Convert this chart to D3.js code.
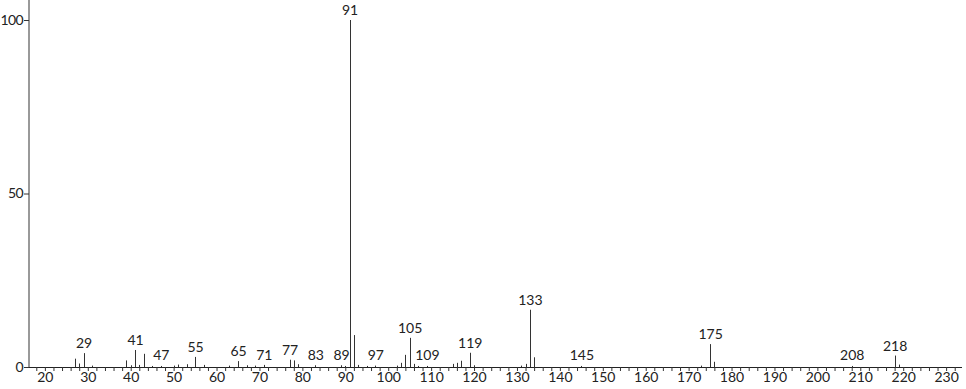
<!DOCTYPE html>
<html>
<head>
<meta charset="utf-8">
<script src="https://cdn.jsdelivr.net/npm/d3@7"></script>
<style>
  body { margin: 0; background: #fff; }
  text { font-family: Lato, "Open Sans", sans-serif; }
</style>
</head>
<body>
<div id="chart"></div>
<script>
// m/z values and relative intensities
var mz = [27, 28, 29, 31, 39, 40, 41, 42, 43, 45, 47, 50, 51, 53, 55, 57, 63, 65, 67, 69, 71,
          77, 78, 79, 83, 89, 90, 91, 92, 93, 95, 97, 102, 103, 104, 105, 106, 107, 109,
          115, 116, 117, 119, 120, 131, 132, 133, 134, 145, 173, 175, 176, 208, 218, 219];
var intensity = [2.4, 1.0, 4.0, 0.4, 1.9, 0.5, 4.9, 0.6, 3.8, 0.3, 0.3, 0.4, 0.7, 0.8, 2.9, 0.6, 0.4, 1.7, 0.5, 0.4, 0.6,
          2.1, 1.9, 0.8, 0.5, 0.5, 0.3, 100, 9.2, 0.6, 0.3, 0.4, 0.4, 1.2, 3.5, 8.4, 0.9, 0.3, 0.3,
          0.9, 1.2, 1.8, 4.1, 0.5, 0.4, 0.9, 16.5, 2.8, 0.3, 0.4, 6.6, 1.5, 0.3, 3.3, 0.7];
var labelled = [29, 41, 47, 55, 65, 71, 77, 83, 89, 91, 97, 105, 109, 119, 133, 145, 175, 208, 218];
var xTickLabels = [20, 30, 40, 50, 60, 70, 80, 90, 100, 110, 120, 130, 140, 150, 160, 170, 180, 190, 200, 210, 220, 230];
var yTickLabels = [0, 50, 100];

var W = 966, H = 389;
var svg = d3.select("#chart").append("svg")
    .attr("width", W)
    .attr("height", H);

var x = d3.scaleLinear().domain([16.3, 233.7]).range([29, 962]);
var y = d3.scaleLinear().domain([0, 100]).range([367, 20]);

// small ticks every 2 units under the baseline
var minor = d3.range(18, 234, 2);
var xAxis = d3.axisBottom(x)
    .tickValues(minor)
    .tickSize(4)
    .tickFormat(function (d) { return xTickLabels.indexOf(d) >= 0 ? d : ""; });

var gx = svg.append("g")
    .attr("transform", "translate(0," + y(0) + ")")
    .call(xAxis);
gx.select(".domain").attr("stroke", "#222").attr("d", "M29,0.5H962");
gx.selectAll(".tick line").attr("stroke", "#333");
gx.selectAll(".tick text")
    .attr("font-size", 14)
    .attr("fill", "#222")
    .attr("dy", "0.55em");

var yAxis = d3.axisLeft(y)
    .tickValues(yTickLabels)
    .tickSize(5)
    .tickPadding(1);
var gy = svg.append("g")
    .attr("transform", "translate(29,0)")
    .call(yAxis);
gy.select(".domain").attr("stroke", "#999").attr("stroke-width", 2).attr("d", "M0,0V367");
gy.selectAll(".tick line").attr("stroke", "#333");
gy.selectAll(".tick text")
    .attr("font-size", 14)
    .attr("letter-spacing", "-0.6")
    .attr("fill", "#222");

var peaks = mz.map(function (m, i) { return { mz: m, v: intensity[i] }; });

svg.append("g").selectAll("line")
    .data(peaks)
    .enter().append("line")
    .attr("x1", function (d) { return Math.round(x(d.mz)) + 0.5; })
    .attr("x2", function (d) { return Math.round(x(d.mz)) + 0.5; })
    .attr("y1", y(0))
    .attr("y2", function (d) { return y(d.v); })
    .attr("stroke", "#333")
    .attr("stroke-width", 1);

svg.append("g").selectAll("text")
    .data(peaks.filter(function (d) { return labelled.indexOf(d.mz) >= 0; }))
    .enter().append("text")
    .attr("x", function (d) { return x(d.mz) + 0.5; })
    .attr("y", function (d) { return Math.min(y(d.v), 365) - 5; })
    .attr("text-anchor", "middle")
    .attr("font-size", 14)
    .attr("fill", "#222")
    .text(function (d) { return d.mz; });
</script>
</body>
</html>
